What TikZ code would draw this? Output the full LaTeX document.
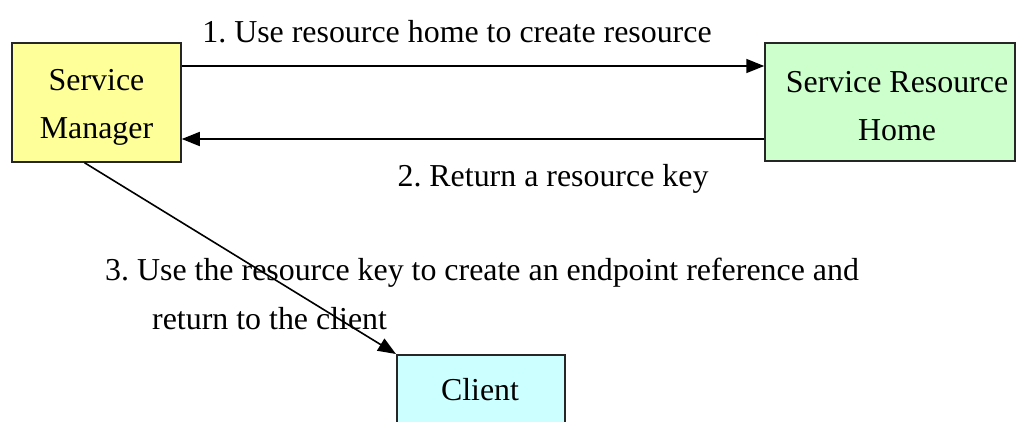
\documentclass[tikz,border=0pt]{standalone}
\usepackage{fontspec}
\setmainfont{Liberation Serif}
\usetikzlibrary{arrows.meta,calc}
\frenchspacing
\begin{document}
\begin{tikzpicture}[x=1pt,y=-1pt,
  every node/.style={font=\fontsize{31.9}{48}\selectfont},
  box/.style={draw=black!85, line width=1.5pt, inner sep=0pt},
  flow/.style={line width=1.6pt, -{Triangle[length=18pt,width=14pt]}}]
  \useasboundingbox (0,0) rectangle (1020,421);
  \clip (0,0) rectangle (1020,421);
  % boxes
  \node[box, fill={rgb,255:red,255;green,255;blue,153}, minimum width=169pt, minimum height=119pt]
        (mgr) at (96.5,102.5) {};
  \node[align=center] (mgrtext) at (96.5,107) {Service\\Manager};
  \node[box, fill={rgb,255:red,204;green,255;blue,204}, minimum width=250pt, minimum height=118pt]
        (home) at (890,102) {};
  \node[align=center] (hometext) at (897,106.5) {Service Resource\\Home};
  \node[box, fill={rgb,255:red,204;green,255;blue,255}, minimum width=168pt, minimum height=100pt,
        anchor=north west] (cli) at (396,354) {};
  \node[anchor=base] (clitext) at (480,400) {Client};
  % connectors
  \draw[flow] (mgr.east |- 0,66) -- (home.west |- 0,66);
  \draw[flow] (home.west |- 0,139) -- (mgr.east |- 0,139);
  \draw[flow] ($(mgr.south west)!0.43!(mgr.south east)$) -- (cli.north west);
  % labels
  \node[anchor=base] (l1) at (457,42) {1. Use resource home to create resource};
  \node[anchor=base] (l2) at (553,186) {2. Return a resource key};
  \node[anchor=base west, inner sep=0pt] (l3a) at (105,280) {3. Use the resource key to create an endpoint reference and};
  \node[anchor=base west, inner sep=0pt] (l3b) at (152,329) {return to the client};
\end{tikzpicture}
\end{document}
